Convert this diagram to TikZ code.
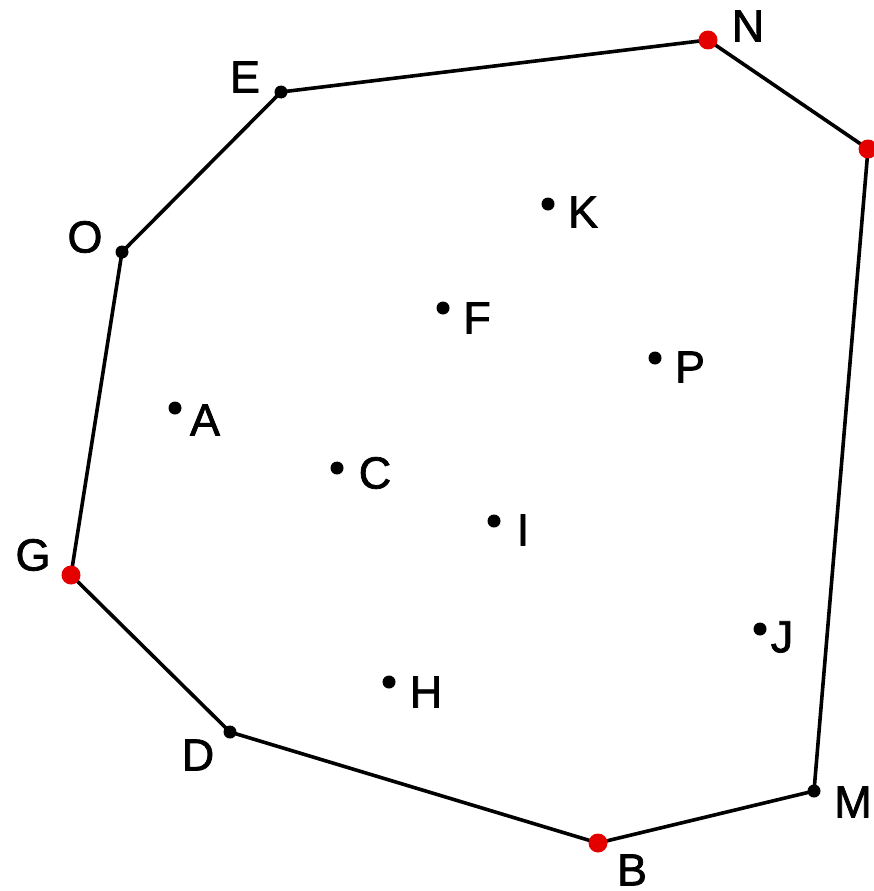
\documentclass[tikz,border=0pt]{standalone}
\usepackage{fontspec}
\setmainfont{Liberation Sans}
\newfontfamily\lblfont[FakeBold=1.6]{Liberation Sans}
\begin{document}
\begin{tikzpicture}[x=1pt,y=-1pt,
  blackdot/.style={circle,fill=black,inner sep=0pt,minimum size=13pt},
  reddot/.style={circle,fill=red!90!black,inner sep=0pt,minimum size=19pt},
  lbl/.style={inner sep=0pt,font=\lblfont\fontsize{45}{45}\selectfont},
  edge/.style={line width=3.6pt,black}]
\useasboundingbox (0,0) rectangle (874,891);
% hull points
\coordinate (E) at (281,92);
\coordinate (N) at (708,40);
\coordinate (R) at (868,149);
\coordinate (M) at (814,791);
\coordinate (B) at (598,843);
\coordinate (D) at (230,732);
\coordinate (G) at (71,575);
\coordinate (O) at (122,252);
\draw[edge] (E) -- (N) -- (R) -- (M) -- (B) -- (D) -- (G) -- (O) -- cycle;
% hull dots
\node[blackdot] (dE) at (E) {};
\node[reddot] (dN) at (N) {};
\node[reddot] (dR) at (R) {};
\node[blackdot] (dM) at (M) {};
\node[reddot] (dB) at (B) {};
\node[blackdot] (dD) at (D) {};
\node[reddot] (dG) at (G) {};
\node[blackdot] (dO) at (O) {};
% interior dots
\node[blackdot] (dK) at (548,204) {};
\node[blackdot] (dF) at (443,308) {};
\node[blackdot] (dP) at (655,358) {};
\node[blackdot] (dA) at (175,408) {};
\node[blackdot] (dC) at (337,468) {};
\node[blackdot] (dI) at (494,521) {};
\node[blackdot] (dJ) at (760,629) {};
\node[blackdot] (dH) at (389,682) {};
% labels
\node[lbl] (lN) at (748,26) {N};
\node[lbl] (lE) at (245,77) {E};
\node[lbl] (lO) at (85,237) {O};
\node[lbl] (lG) at (33,555) {G};
\node[lbl] (lD) at (198,755) {D};
\node[lbl] (lB) at (632,870) {B};
\node[lbl] (lM) at (853,802) {M};
\node[lbl] (lK) at (583,212) {K};
\node[lbl] (lF) at (477,318) {F};
\node[lbl] (lP) at (690,367) {P};
\node[lbl] (lA) at (205,420) {A};
\node[lbl] (lC) at (375,473) {C};
\node[lbl] (lI) at (523,530) {I};
\node[lbl] (lJ) at (782,637) {J};
\node[lbl] (lH) at (426,692) {H};
\end{tikzpicture}
\end{document}
